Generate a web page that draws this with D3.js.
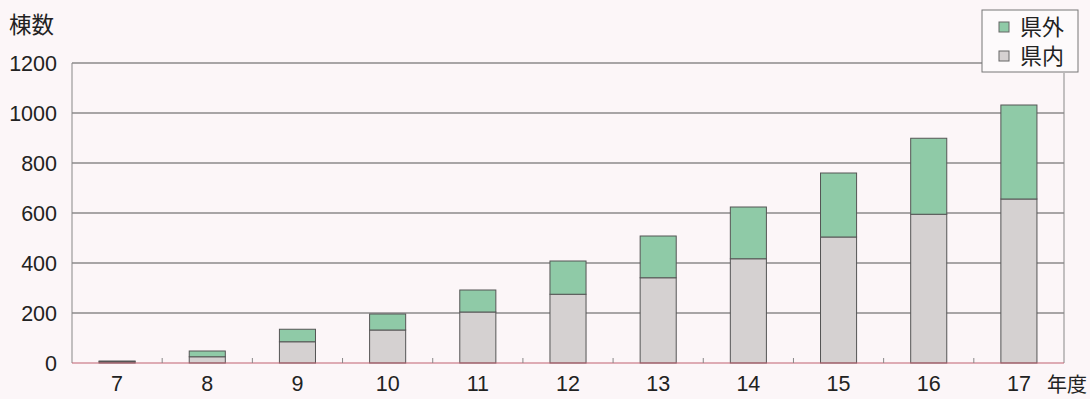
<!DOCTYPE html>
<html>
<head>
<meta charset="utf-8">
<script src="https://cdn.jsdelivr.net/npm/d3@7"></script>
<style>
  body { margin: 0; background: #fcf6f8; }
  svg { display: block; font-family: "Liberation Sans", Arial, sans-serif; }
</style>
</head>
<body>
<script>
// data
const years = ['7', '8', '9', '10', '11', '12', '13', '14', '15', '16', '17'];
const kennai = [5, 25, 85, 132, 204, 275, 341, 417, 504, 595, 656];   // 県内
const kengai = [3, 23, 50, 64, 88, 133, 167, 207, 256, 304, 376];     // 県外
const yTicks = [0, 200, 400, 600, 800, 1000, 1200];

const width = 1090, height = 399;
const margin = { top: 63, right: 26, bottom: 36, left: 72 };
const innerW = width - margin.left - margin.right;
const innerH = height - margin.top - margin.bottom;

const svg = d3.select('body').append('svg')
    .attr('width', width)
    .attr('height', height);

const g = svg.append('g')
    .attr('transform', `translate(${margin.left},${margin.top})`);

const x = d3.scaleBand()
    .domain(years)
    .range([0, innerW])
    .paddingInner(0.6)
    .paddingOuter(0.3);

const y = d3.scaleLinear()
    .domain([0, 1200])
    .range([innerH, 0]);

// gridlines
g.selectAll('.grid')
    .data(yTicks.filter(d => d > 0))
    .enter().append('line')
    .attr('x1', 0)
    .attr('x2', innerW)
    .attr('y1', d => y(d))
    .attr('y2', d => y(d))
    .attr('stroke', '#555')
    .attr('stroke-width', 1);

// y labels
g.selectAll('.ylab')
    .data(yTicks)
    .enter().append('text')
    .attr('x', -15)
    .attr('y', d => y(d))
    .attr('dy', '0.36em')
    .attr('text-anchor', 'end')
    .attr('font-size', 21.5)
    .attr('fill', '#222')
    .text(d => d);

// bars
const stackData = years.map((yr, i) => ({ year: yr, kennai: kennai[i], kengai: kengai[i] }));
const series = d3.stack().keys(['kennai', 'kengai'])(stackData);
const colors = { kennai: '#d5d1d1', kengai: '#8fcaa7' };

g.selectAll('.series')
    .data(series)
    .enter().append('g')
    .attr('fill', d => colors[d.key])
    .selectAll('rect')
    .data(d => d)
    .enter().append('rect')
    .attr('x', d => x(d.data.year))
    .attr('y', d => y(d[1]))
    .attr('width', x.bandwidth())
    .attr('height', d => y(d[0]) - y(d[1]))
    .attr('stroke', '#555')
    .attr('stroke-width', 1);

// frame: left axis, right side, bottom
g.append('line')
    .attr('x1', 0).attr('x2', 0)
    .attr('y1', 0).attr('y2', innerH)
    .attr('stroke', '#888');
g.append('line')
    .attr('x1', innerW).attr('x2', innerW)
    .attr('y1', -(margin.top - 73)).attr('y2', innerH)
    .attr('stroke', '#888');
g.append('line')
    .attr('x1', 0).attr('x2', innerW)
    .attr('y1', innerH).attr('y2', innerH)
    .attr('stroke', '#c06070');

// small ticks between categories
const step = x.step();
g.selectAll('.tick-b')
    .data(years.slice(1))
    .enter().append('line')
    .attr('x1', d => x(d) - x.paddingInner() * step / 2)
    .attr('x2', d => x(d) - x.paddingInner() * step / 2)
    .attr('y1', innerH)
    .attr('y2', innerH - 5)
    .attr('stroke', '#888');

// x labels
g.selectAll('.xlab')
    .data(years)
    .enter().append('text')
    .attr('x', d => x(d) + x.bandwidth() / 2)
    .attr('y', innerH + 28)
    .attr('text-anchor', 'middle')
    .attr('font-size', 21.5)
    .attr('fill', '#222')
    .text(d => d);

svg.append('text')
    .attr('x', 1047).attr('y', 392)
    .attr('font-size', 20)
    .attr('font-family', '"Noto Sans CJK JP", sans-serif')
    .attr('fill', '#222')
    .text('年度');

svg.append('text')
    .attr('x', 9).attr('y', 33)
    .attr('font-size', 22.5)
    .attr('font-family', '"Noto Sans CJK JP", sans-serif')
    .attr('fill', '#222')
    .text('棟数');

// legend
const legend = svg.append('g').attr('transform', 'translate(982,10)');
legend.append('rect')
    .attr('width', 96).attr('height', 62)
    .attr('fill', '#fdfafb')
    .attr('stroke', '#777');
const legendItems = [{ key: 'kengai', label: '県外' }, { key: 'kennai', label: '県内' }];
legendItems.forEach((d, i) => {
    const row = legend.append('g').attr('transform', `translate(17,${17 + i * 29})`);
    row.append('rect')
        .attr('x', 0).attr('y', -5)
        .attr('width', 10).attr('height', 10)
        .attr('fill', colors[d.key])
        .attr('stroke', '#666');
    row.append('text')
        .attr('x', 21).attr('y', 0)
        .attr('dy', '0.36em')
        .attr('font-size', 22)
        .attr('font-family', '"Noto Sans CJK JP", sans-serif')
        .attr('fill', '#222')
        .text(d.label);
});
</script>
</body>
</html>
